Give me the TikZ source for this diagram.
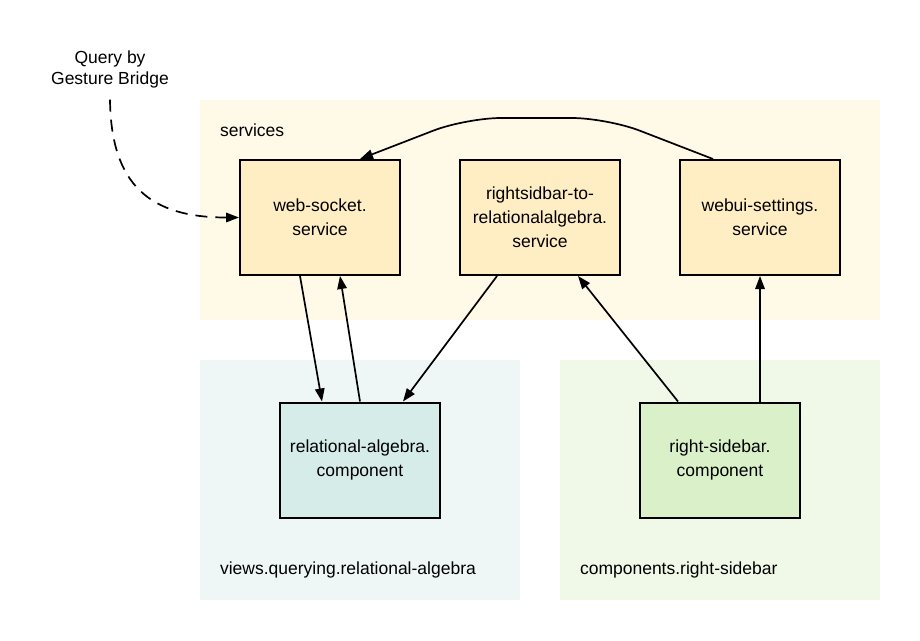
\documentclass[tikz,border=0pt]{standalone}
\usepackage{fontspec}
\setmainfont{Liberation Sans}
\definecolor{servicebg}{RGB}{255,249,232}
\definecolor{servicefill}{RGB}{255,237,196}
\definecolor{viewbg}{RGB}{238,247,245}
\definecolor{viewfill}{RGB}{214,236,232}
\definecolor{compbg}{RGB}{240,248,232}
\definecolor{compfill}{RGB}{217,240,200}
\usetikzlibrary{shapes,arrows.meta}
\tikzstyle{block} = [rectangle, draw, line width=2pt, fill=servicefill,
    text width=150pt, inner sep=5pt, text centered, minimum height=115pt,
    font=\fontsize{17.5}{24}\selectfont]
\tikzstyle{group} = [anchor=west, font=\fontsize{17.5}{21}\selectfont]
\tikzstyle{line} = [draw, line width=1.7pt, -{Triangle[length=13pt,width=9.5pt]}]

\begin{document}
\begin{tikzpicture}[x=1pt, y=-1pt, node distance=220pt, auto]
  \useasboundingbox (0,0) rectangle (920,640);
  \fill [servicebg] (200,100) rectangle (880,320);
  \fill [viewbg] (200,360) rectangle (520,600);
  \fill [compbg] (560,360) rectangle (880,600);
  \node [group] (services_lbl) at (216.5,130) {services};
  \node [group] (views_lbl) at (216.5,570) {views.querying.relational-algebra};
  \node [group] (comps_lbl) at (576.5,570) {components.right-sidebar};
  \node [align=center, font=\fontsize{17.5}{21}\selectfont] (query) at (110,69.5) {Query by\\Gesture Bridge};
  \node [block] (web_socket) at (320,217.5) {web-socket.\\service};
  \node [block, right of=web_socket] (rs_to_ra) {rightsidbar-to-\\relationalalgebra.\\service};
  \node [block, right of=rs_to_ra] (webui) {webui-settings.\\service};
  \node [block, fill=viewfill, below of=web_socket, node distance=242.5pt, xshift=40pt] (rel_alg) {relational-algebra.\\component};
  \node [block, fill=compfill, below of=webui, node distance=242.5pt, xshift=-40pt] (right_sb) {right-sidebar.\\component};
  \path [line, dash pattern=on 12pt off 8pt] ([yshift=-8pt]query.south) .. controls (111,185) and (150,217.5) .. (web_socket.west);
  \path [line, rounded corners=35pt] ([xshift=-47pt]webui.north) -- (607,118) -- (466,118) -- ([xshift=40pt]web_socket.north);
  \path [line] ([xshift=-20pt]web_socket.south) -- ([xshift=-38pt]rel_alg.north);
  \path [line] (rel_alg.north) -- ([xshift=20pt]web_socket.south);
  \path [line] ([xshift=-43pt]rs_to_ra.south) -- ([xshift=43pt]rel_alg.north);
  \path [line] ([xshift=-42pt]right_sb.north) -- ([xshift=38pt]rs_to_ra.south);
  \path [line] ([xshift=40pt]right_sb.north) -- (webui.south);
\end{tikzpicture}
\end{document}
